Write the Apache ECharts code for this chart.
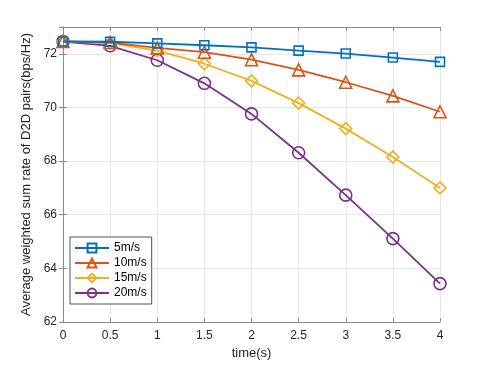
<!DOCTYPE html>
<html><head><meta charset="utf-8">
<script src="https://cdn.jsdelivr.net/npm/echarts@6/dist/echarts.min.js"></script>
<style>html,body{margin:0;padding:0;background:#fff}#c{width:485px;height:365px}</style>
</head><body><div id="c"></div>
<script>
const times = [0, 0.5, 1, 1.5, 2, 2.5, 3, 3.5, 4];
const seriesNames = ['5m/s', '10m/s', '15m/s', '20m/s'];
const v5 = [72.46, 72.45, 72.39, 72.32, 72.24, 72.12, 72.01, 71.86, 71.70];
const v10 = [72.46, 72.42, 72.22, 72.06, 71.78, 71.40, 70.94, 70.43, 69.84];
const v15 = [72.46, 72.40, 72.12, 71.63, 70.99, 70.16, 69.21, 68.15, 67.00];
const v20 = [72.46, 72.30, 71.76, 70.90, 69.76, 68.31, 66.73, 65.11, 63.43];
const xTicks = ['0', '0.5', '1', '1.5', '2', '2.5', '3', '3.5', '4'];
const yTicks = [62, 64, 66, 68, 70, 72];

const colors = ['#0072BD', '#D95319', '#EDB120', '#7E2F8E'];
const symbols = ['rect', 'triangle', 'diamond', 'circle'];
const sizes = [9, 12, 12, 12];
const values = [v5, v10, v15, v20];

const chart = echarts.init(document.getElementById('c'));
const axisColor = '#8a8a8a';
const labelColor = '#262626';
const font = 'Liberation Sans, Arial, sans-serif';

const series = seriesNames.map((n, i) => ({
  name: n, type: 'line',
  data: times.map((t, j) => [t, values[i][j]]),
  symbol: symbols[i], symbolSize: sizes[i],
  lineStyle: {color: colors[i], width: 1.8},
  itemStyle: {color: 'rgba(255,255,255,0)', borderColor: colors[i], borderWidth: 1.6},
  emphasis: {disabled: true},
  z: 10 - i
}));

chart.setOption({
  animation: false,
  backgroundColor: '#fff',
  grid: {left: 63, right: 45, top: 27, bottom: 43, show: false},
  legend: {
    orient: 'vertical', left: 70, top: 237,
    data: seriesNames,
    itemWidth: 34, itemHeight: 11, itemGap: 3,
    padding: [5, 5, 5, 4],
    borderColor: '#262626', borderWidth: 0.8,
    backgroundColor: '#fff',
    textStyle: {fontSize: 12, color: '#000', fontFamily: font}
  },
  xAxis: [{
    type: 'value', min: 0, max: 4, interval: 0.5,
    name: 'time(s)', nameLocation: 'middle', nameGap: 25,
    nameTextStyle: {fontSize: 13, color: labelColor, fontFamily: font},
    axisLine: {show: true, lineStyle: {color: axisColor, width: 1}},
    axisTick: {show: true, inside: true, length: 4, lineStyle: {color: axisColor}},
    axisLabel: {fontSize: 12, color: labelColor, fontFamily: font, margin: 8,
      formatter: v => xTicks[Math.round(v * 2)]},
    splitLine: {show: true, lineStyle: {color: '#e6e6e6', width: 1}}
  }, {
    type: 'value', min: 0, max: 4, interval: 0.5, position: 'top',
    axisLine: {show: true, lineStyle: {color: axisColor, width: 1}},
    axisTick: {show: true, inside: true, length: 4, lineStyle: {color: axisColor}},
    axisLabel: {show: false}, splitLine: {show: false}
  }],
  yAxis: [{
    type: 'value', min: 62, max: 73, interval: 2,
    name: 'Average weighted sum rate of D2D pairs(bps/Hz)',
    nameLocation: 'middle', nameGap: 30,
    nameTextStyle: {fontSize: 13, color: labelColor, fontFamily: font},
    axisLine: {show: true, lineStyle: {color: axisColor, width: 1}},
    axisTick: {show: true, inside: true, length: 4, lineStyle: {color: axisColor}},
    axisLabel: {fontSize: 12, color: labelColor, fontFamily: font, margin: 6,
      formatter: v => yTicks.includes(v) ? String(v) : ''},
    splitLine: {show: true, lineStyle: {color: '#e6e6e6', width: 1}}
  }, {
    type: 'value', min: 62, max: 73, interval: 2, position: 'right',
    axisLine: {show: true, lineStyle: {color: axisColor, width: 1}},
    axisTick: {show: true, inside: true, length: 4, lineStyle: {color: axisColor}},
    axisLabel: {show: false}, splitLine: {show: false}
  }],
  series: series
});
</script></body></html>
